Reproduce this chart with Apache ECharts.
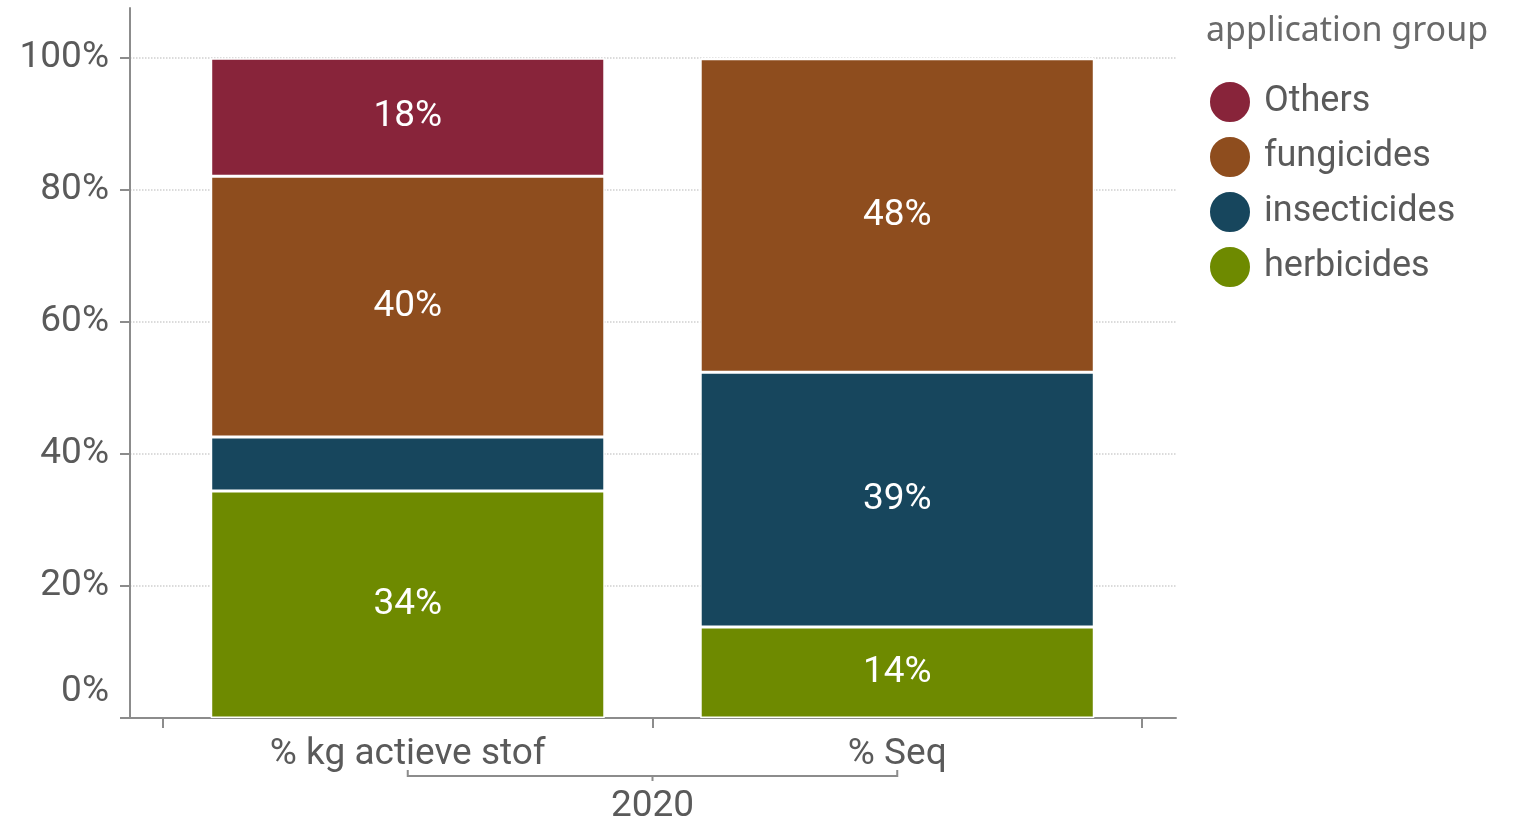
<!DOCTYPE html>
<html>
<head>
<meta charset="utf-8">
<title>application group</title>
<script src="https://cdn.jsdelivr.net/npm/echarts@6/dist/echarts.min.js"></script>
<style>
html, body { margin: 0; padding: 0; background: #fff; }
#chart { width: 1516px; height: 822px; }
</style>
</head>
<body>
<div id="chart"></div>
<script>
// categorieen en aandelen (%)
const categories = ['% kg actieve stof', '% Seq']
const groupLabel = '2020'
const legendOrder = ['Others', 'fungicides', 'insecticides', 'herbicides']
const herbicides = [34.4, 13.8]
const insecticides = [8.2, 38.6]
const fungicides = [39.5, 47.5]
const others = [17.9, 0.1]
const yTicks = [0, 20, 40, 60, 80, 100]
const yMax = 107.6

const chart = echarts.init(document.getElementById('chart'))

const font = 'Roboto, "Liberation Sans", sans-serif'
const axisGrey = '#8c8c8c'
const textGrey = '#5a5a5a'

function barSeries (name, data, color) {
  return {
    name: name,
    type: 'bar',
    stack: 'total',
    xAxisIndex: 1,
    yAxisIndex: 1,
    barWidth: '80.5%',
    data: data,
    itemStyle: { color: color, borderColor: '#fff', borderWidth: 1.5 },
    label: {
      show: true,
      position: 'inside',
      color: '#fff',
      fontFamily: font,
      fontSize: 37,
      formatter: function (p) {
        // kleine segmenten krijgen geen label
        return p.value < 10 ? '' : Math.round(p.value) + '%'
      }
    }
  }
}

chart.setOption({
  animation: false,
  title: {
    text: 'application group',
    left: 1206,
    top: 14,
    padding: 0,
    textStyle: { fontFamily: '"Noto Sans", sans-serif', fontSize: 34, fontWeight: 'normal', color: '#6a6a6a' }
  },
  legend: {
    data: legendOrder,
    orient: 'vertical',
    left: 1208,
    top: 80,
    padding: 0,
    icon: 'circle',
    itemWidth: 42,
    itemHeight: 42,
    itemGap: 11,
    textStyle: { fontFamily: font, fontSize: 36, color: textGrey, padding: [0, 0, 0, 8] }
  },
  grid: [
    // kader: assen en hulplijnen
    { left: 130, top: 8, width: 1046, height: 710 },
    // staven
    { left: 163, top: 8, width: 979, height: 710 }
  ],
  xAxis: [
    {
      gridIndex: 0,
      type: 'value',
      min: 0,
      max: 1,
      axisLine: { show: true, lineStyle: { color: axisGrey, width: 2 } },
      axisTick: { show: false },
      axisLabel: { show: false },
      splitLine: { show: false }
    },
    {
      gridIndex: 1,
      type: 'category',
      data: categories,
      axisLine: { show: false },
      axisTick: { show: true, length: 10, lineStyle: { color: axisGrey, width: 2 } },
      axisLabel: { fontFamily: font, fontSize: 37, color: textGrey, margin: 18 }
    }
  ],
  yAxis: [
    {
      gridIndex: 0,
      type: 'value',
      min: 0,
      max: yMax,
      axisLine: { show: true, lineStyle: { color: axisGrey, width: 2 } },
      axisTick: { show: true, length: 10, customValues: yTicks, lineStyle: { color: axisGrey, width: 2 } },
      axisLabel: {
        customValues: yTicks,
        fontFamily: font,
        fontSize: 37,
        color: textGrey,
        margin: 21,
        formatter: function (v) {
          return v === 0 ? '{z|0%}' : v + '%'
        },
        rich: {
          z: { fontFamily: font, fontSize: 37, color: textGrey, padding: [0, 0, 52, 0] }
        }
      },
      splitLine: { show: true, lineStyle: { color: '#cfcfcf', type: 'dotted', width: 1.5 } }
    },
    {
      gridIndex: 1,
      type: 'value',
      min: 0,
      max: yMax,
      show: false
    }
  ],
  series: [
    barSeries('herbicides', herbicides, '#6e8a00'),
    barSeries('insecticides', insecticides, '#17465d'),
    barSeries('fungicides', fungicides, '#8e4d1e'),
    barSeries('Others', others, '#88243a')
  ]
})

// groepslabel met accolade onder de categorieen
const xa = chart.convertToPixel({ xAxisIndex: 1 }, categories[0])
const xb = chart.convertToPixel({ xAxisIndex: 1 }, categories[1])
const yb = chart.convertToPixel({ yAxisIndex: 1 }, 0)
const xm = (xa + xb) / 2
chart.setOption({
  graphic: [
    {
      type: 'polyline',
      shape: { points: [[xa, yb + 52], [xa, yb + 58], [xb, yb + 58], [xb, yb + 52]] },
      style: { stroke: axisGrey, lineWidth: 2, fill: null }
    },
    {
      type: 'line',
      shape: { x1: xm, y1: yb + 58, x2: xm, y2: yb + 63 },
      style: { stroke: axisGrey, lineWidth: 2 }
    },
    {
      type: 'text',
      x: xm,
      y: yb + 89,
      style: { text: groupLabel, align: 'center', verticalAlign: 'middle', fontFamily: font, fontSize: 37, fill: textGrey }
    }
  ]
})
</script>
</body>
</html>
